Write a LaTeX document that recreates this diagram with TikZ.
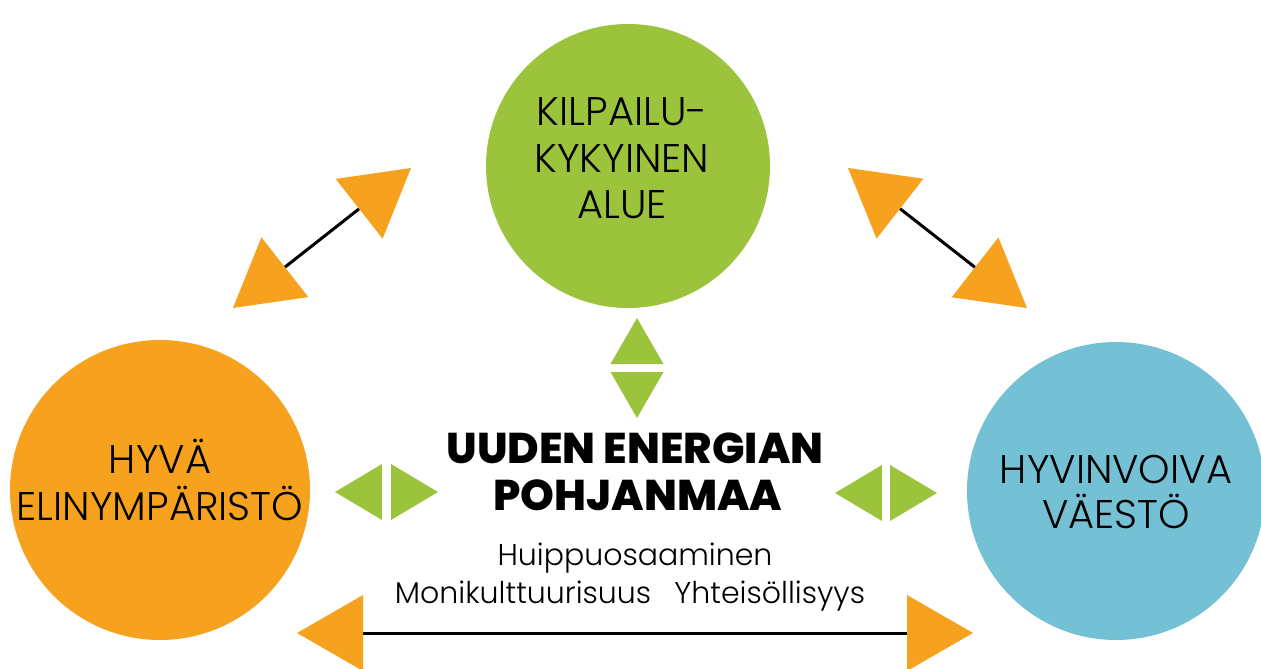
\documentclass[tikz,border=0pt]{standalone}
\usepackage{fontspec}
\setmainfont{Poppins}[UprightFont=* Light, BoldFont=* ExtraBold]
\usetikzlibrary{arrows.meta}
\definecolor{orA}{HTML}{F7A21E}
\definecolor{grA}{HTML}{9CC33C}
\definecolor{blA}{HTML}{74C0D5}
\tikzset{
  ball/.style={circle, inner sep=0pt, draw=none},
  lbl/.style={anchor=base, inner sep=0pt, font=\fontsize{40}{48}\selectfont},
  head/.style={anchor=base, inner sep=0pt, font=\fontsize{43}{50}\selectfont\bfseries},
  sub/.style={anchor=base, inner sep=0pt, font=\fontsize{30}{36}\selectfont},
  oarrow/.style={black, line width=3pt,
    {Triangle[length=66pt,width=76pt,color=orA,line width=0pt]}-{Triangle[length=66pt,width=76pt,color=orA,line width=0pt]}},
  gvarrow/.style={white, line width=1pt,
    {Triangle[length=46pt,width=53pt,color=grA,line width=0pt]}-{Triangle[length=46pt,width=53pt,color=grA,line width=0pt]}},
  gharrow/.style={white, line width=1pt,
    {Triangle[length=47pt,width=56pt,color=grA,line width=0pt]}-{Triangle[length=47pt,width=56pt,color=grA,line width=0pt]}}
}
\begin{document}
\begin{tikzpicture}[x=1pt,y=-1pt]
\path[use as bounding box, fill=white] (0,0) rectangle (1261,669);

% circles
\node[ball, fill=grA, minimum size=284pt] (kilp) at (628,166) {};
\node[ball, fill=orA, minimum size=300pt] (hyva) at (160,490) {};
\node[ball, fill=blA, minimum size=298pt] (hyvin) at (1116,491) {};

% circle texts
\node[lbl] (k1) at (622,125) {KILPAILU-};
\node[lbl] (k2) at (622,172) {KYKYINEN};
\node[lbl] (k3) at (622,218) {ALUE};
\node[lbl] (h1) at (160,473) {HYVÄ};
\node[lbl] (h2) at (160,520) {ELINYMPÄRISTÖ};
\node[lbl] (v1) at (1116,483) {HYVINVOIVA};
\node[lbl] (v2) at (1116,528) {VÄESTÖ};

% centre texts
\node[head] (u1) at (635,463) {UUDEN ENERGIAN};
\node[head] (u2) at (638,510) {POHJANMAA};
\node[sub] (s1) at (635,565) {Huippuosaaminen};
\node[sub] (s2) at (630,603) {Monikulttuurisuus\hspace{0.5em} Yhteisöllisyys};

% arrow end points
\coordinate (dl1) at (233,308);
\coordinate (dl2) at (411,168);
\coordinate (dr1) at (848,168);
\coordinate (dr2) at (1027,308);
\coordinate (b1) at (297,633);
\coordinate (b2) at (973,633);
\coordinate (gv1) at (637,318);
\coordinate (gv2) at (637,418);
\coordinate (gl1) at (335,492);
\coordinate (gl2) at (438,492);
\coordinate (gr1) at (835,493);
\coordinate (gr2) at (937,493);

% arrows
\draw[oarrow] (dl1) -- (dl2);
\draw[oarrow] (dr1) -- (dr2);
\draw[oarrow] (b1) -- (b2);
\draw[gvarrow] (gv1) -- (gv2);
\draw[gharrow] (gl1) -- (gl2);
\draw[gharrow] (gr1) -- (gr2);
\end{tikzpicture}
\end{document}
